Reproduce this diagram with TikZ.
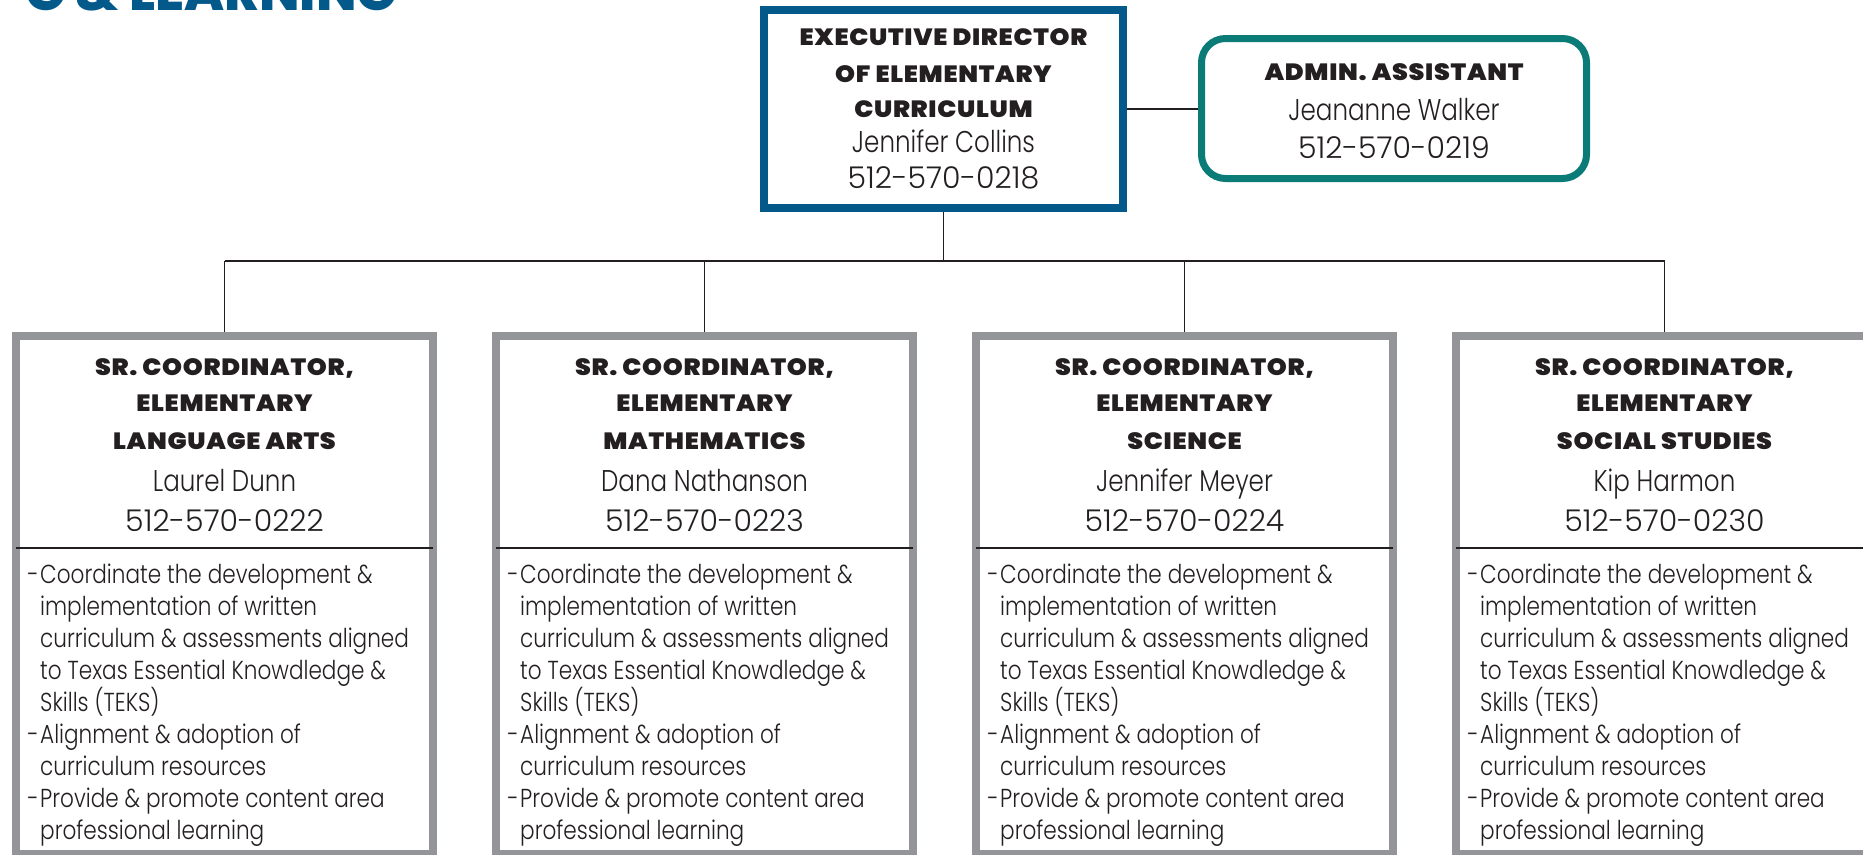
\documentclass[tikz,border=0pt]{standalone}
\usepackage{fontspec}
\newfontfamily\titlef{Poppins}[UprightFont={* ExtraBold}]
\newfontfamily\hfont{Poppins}[UprightFont={* Black}, LetterSpace=3, FakeStretch=1.08]
\newfontfamily\nmfont{Poppins}[UprightFont={* Light}, FakeStretch=0.82]
\newfontfamily\bodyfont{Poppins}[UprightFont={* Light}, FakeStretch=0.83]
\newfontfamily\phfont{Poppins}[UprightFont={* Light}]
\definecolor{dirblue}{HTML}{02598A}
\definecolor{admteal}{HTML}{0B7B77}
\definecolor{boxgray}{HTML}{939598}
\definecolor{ink}{HTML}{231F20}
\tikzset{
  hdr/.style={anchor=base, inner sep=0pt, text=ink, font=\hfont\fontsize{23.5}{26}\selectfont},
  nm/.style={anchor=base, inner sep=0pt, text=ink, font=\nmfont\fontsize{30}{32}\selectfont},
  ph/.style={anchor=base, inner sep=0pt, text=ink, font=\phfont\fontsize{30}{32}\selectfont},
  body/.style={anchor=base west, inner sep=0pt, text=ink, font=\bodyfont\fontsize{26}{30}\selectfont},
  conn/.style={draw=ink, line width=1.8pt},
  cbox/.style={draw=boxgray, line width=8pt, fill=white, minimum width=417pt, minimum height=518pt, inner sep=0pt},
}
\begin{document}
\begin{tikzpicture}[x=1pt,y=-1pt]
\useasboundingbox (0,0) rectangle (1863,854);
\clip (0,0) rectangle (1863,854);
% title (cut off at top)
\node (title) [anchor=base east, inner sep=0pt, text=dirblue, font=\titlef\fontsize{53}{53}\selectfont] at (397,10) {G \& LEARNING};
% executive director
\node (exec) [draw=dirblue, line width=8pt, fill=white, minimum width=359pt, minimum height=198pt, inner sep=0pt] at (943.5,109) {};
\node (e1) [hdr] at (943.5,45) {EXECUTIVE DIRECTOR};
\node (e2) [hdr] at (943.5,82) {OF ELEMENTARY};
\node (e3) [hdr] at (943.5,117) {CURRICULUM};
\node (e4) [nm] at (943.5,152) {Jennifer Collins};
\node (e5) [ph] at (943.5,188) {512-570-0218};
% admin assistant
\node (adm) [draw=admteal, line width=7pt, fill=white, rounded corners=24pt, minimum width=385pt, minimum height=140pt, inner sep=0pt] at (1394,108.5) {};
\node (a1) [hdr] at (1394,80) {ADMIN. ASSISTANT};
\node (a2) [nm] at (1394,120) {Jeananne Walker};
\node (a3) [ph] at (1394,158) {512-570-0219};
\draw[conn] (exec.east) -- (exec.east -| adm.west);
% coordinators
\coordinate (bus) at (943.5,261);
\foreach \i/\cx/\subj/\pname/\phn in {1/224.5/LANGUAGE ARTS/Laurel Dunn/512-570-0222, 2/704.5/MATHEMATICS/Dana Nathanson/512-570-0223, 3/1184.5/SCIENCE/Jennifer Meyer/512-570-0224, 4/1664.5/SOCIAL STUDIES/Kip Harmon/512-570-0230}{
  \node (c\i) [cbox] at (\cx,595) {};
  \draw[conn, line width=1.5pt] ([xshift=4pt]c\i.west |- 0,548) -- ([xshift=-4pt]c\i.east |- 0,548);
  \node (c\i t1) [hdr] at (\cx,375) {SR. COORDINATOR,};
  \node (c\i t2) [hdr] at (\cx,411) {ELEMENTARY};
  \node (c\i t3) [hdr] at (\cx,449) {\subj};
  \node (c\i n) [nm] at (\cx,491) {\pname};
  \node (c\i p) [ph] at (\cx,531) {\phn};
  \node (c\i d1) [body] at (\cx-197,583) {-};
  \node (c\i d2) [body] at (\cx-197,743) {-};
  \node (c\i d3) [body] at (\cx-197,807) {-};
  \foreach \yy/\txt [count=\k] in {583/Coordinate the development \&, 615/implementation of written, 647/curriculum \& assessments aligned, 679/to Texas Essential Knowdledge \&, 711/Skills (TEKS), 743/Alignment \& adoption of, 775/curriculum resources, 807/Provide \& promote content area, 839/professional learning}{
    \node (c\i b\k) [body] at (\cx-184.5,\yy) {\txt};
  }
}
\draw[conn] (exec.south) -- (exec.south |- bus);
\draw[conn] (c1.north |- bus) -- (c4.north |- bus);
\foreach \i in {1,2,3,4}{
  \draw[conn] (c\i.north |- bus) -- (c\i.north);
}
\end{tikzpicture}
\end{document}
